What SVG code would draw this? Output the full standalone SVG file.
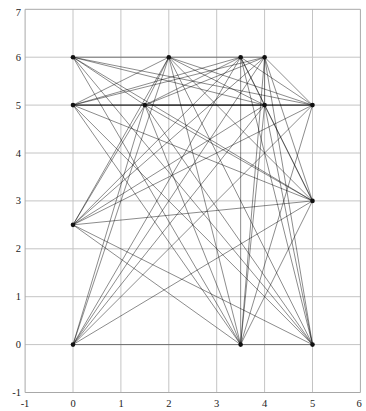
<svg xmlns="http://www.w3.org/2000/svg" width="366" height="411" viewBox="0 0 366 411">
<style>
.grid line{stroke:#c4c4c4;stroke-width:1;vector-effect:non-scaling-stroke}
.frame{fill:none;stroke:#a8a8a8;stroke-width:1;vector-effect:non-scaling-stroke}
.edges line{stroke:#000;stroke-opacity:0.5;stroke-width:0.9;vector-effect:non-scaling-stroke}
.node circle{fill:#111}
.lbl{font-family:"Liberation Serif","Times New Roman",serif;font-size:10.5px;fill:#222}
.xl{text-anchor:middle}
.yl{text-anchor:end;dominant-baseline:central}
</style>
<rect width="366" height="411" fill="#fff"/>
<g transform="translate(73,344.6) scale(47.9,-47.9)">
<g class="grid">
<line x1="0" y1="-1" x2="0" y2="7"/><line x1="1" y1="-1" x2="1" y2="7"/><line x1="2" y1="-1" x2="2" y2="7"/><line x1="3" y1="-1" x2="3" y2="7"/><line x1="4" y1="-1" x2="4" y2="7"/><line x1="5" y1="-1" x2="5" y2="7"/>
<line x1="-1" y1="0" x2="6" y2="0"/><line x1="-1" y1="1" x2="6" y2="1"/><line x1="-1" y1="2" x2="6" y2="2"/><line x1="-1" y1="3" x2="6" y2="3"/><line x1="-1" y1="4" x2="6" y2="4"/><line x1="-1" y1="5" x2="6" y2="5"/><line x1="-1" y1="6" x2="6" y2="6"/>
</g>
<rect class="frame" x="-1" y="-1" width="7" height="8"/>
<g id="connectors" class="edges">
<line x1="0" y1="6" x2="2" y2="6"/><line x1="0" y1="6" x2="1.5" y2="5"/><line x1="0" y1="6" x2="4" y2="5"/><line x1="0" y1="6" x2="5" y2="5"/><line x1="0" y1="6" x2="5" y2="3"/><line x1="0" y1="6" x2="3.5" y2="0"/><line x1="0" y1="6" x2="5" y2="0"/>
<line x1="2" y1="6" x2="3.5" y2="6"/><line x1="2" y1="6" x2="0" y2="5"/><line x1="2" y1="6" x2="1.5" y2="5"/><line x1="2" y1="6" x2="4" y2="5"/><line x1="2" y1="6" x2="5" y2="5"/><line x1="2" y1="6" x2="0" y2="2.5"/><line x1="2" y1="6" x2="5" y2="3"/><line x1="2" y1="6" x2="0" y2="0"/><line x1="2" y1="6" x2="3.5" y2="0"/><line x1="2" y1="6" x2="5" y2="0"/>
<line x1="3.5" y1="6" x2="4" y2="6"/><line x1="3.5" y1="6" x2="0" y2="5"/><line x1="3.5" y1="6" x2="1.5" y2="5"/><line x1="3.5" y1="6" x2="4" y2="5"/><line x1="3.5" y1="6" x2="5" y2="5"/><line x1="3.5" y1="6" x2="0" y2="2.5"/><line x1="3.5" y1="6" x2="5" y2="3"/><line x1="3.5" y1="6" x2="0" y2="0"/><line x1="3.5" y1="6" x2="3.5" y2="0"/><line x1="3.5" y1="6" x2="5" y2="0"/>
<line x1="4" y1="6" x2="0" y2="5"/><line x1="4" y1="6" x2="1.5" y2="5"/><line x1="4" y1="6" x2="4" y2="5"/><line x1="4" y1="6" x2="5" y2="5"/><line x1="4" y1="6" x2="0" y2="2.5"/><line x1="4" y1="6" x2="5" y2="3"/><line x1="4" y1="6" x2="0" y2="0"/><line x1="4" y1="6" x2="3.5" y2="0"/><line x1="4" y1="6" x2="5" y2="0"/>
<line x1="0" y1="5" x2="1.5" y2="5"/><line x1="0" y1="5" x2="4" y2="5"/><line x1="0" y1="5" x2="5" y2="5"/><line x1="0" y1="5" x2="5" y2="3"/><line x1="0" y1="5" x2="3.5" y2="0"/><line x1="0" y1="5" x2="5" y2="0"/>
<line x1="1.5" y1="5" x2="4" y2="5"/><line x1="1.5" y1="5" x2="5" y2="5"/><line x1="1.5" y1="5" x2="0" y2="2.5"/><line x1="1.5" y1="5" x2="5" y2="3"/><line x1="1.5" y1="5" x2="0" y2="0"/><line x1="1.5" y1="5" x2="3.5" y2="0"/><line x1="1.5" y1="5" x2="5" y2="0"/>
<line x1="4" y1="5" x2="5" y2="5"/><line x1="4" y1="5" x2="0" y2="2.5"/><line x1="4" y1="5" x2="5" y2="3"/><line x1="4" y1="5" x2="0" y2="0"/><line x1="4" y1="5" x2="3.5" y2="0"/><line x1="4" y1="5" x2="5" y2="0"/>
<line x1="5" y1="5" x2="0" y2="2.5"/><line x1="5" y1="5" x2="0" y2="0"/><line x1="5" y1="5" x2="3.5" y2="0"/>
<line x1="0" y1="2.5" x2="5" y2="3"/><line x1="0" y1="2.5" x2="3.5" y2="0"/><line x1="0" y1="2.5" x2="5" y2="0"/>
<line x1="5" y1="3" x2="0" y2="0"/><line x1="5" y1="3" x2="3.5" y2="0"/>
<line x1="0" y1="0" x2="3.5" y2="0"/>
<line x1="3.5" y1="0" x2="5" y2="0"/>
</g>
</g>
<g id="n_0_6" class="node"><circle cx="73" cy="57.2" r="2.3"/></g>
<g id="n_2_6" class="node"><circle cx="168.8" cy="57.2" r="2.3"/></g>
<g id="n_35_6" class="node"><circle cx="240.65" cy="57.2" r="2.3"/></g>
<g id="n_4_6" class="node"><circle cx="264.6" cy="57.2" r="2.3"/></g>
<g id="n_0_5" class="node"><circle cx="73" cy="105.1" r="2.3"/></g>
<g id="n_15_5" class="node"><circle cx="144.85" cy="105.1" r="2.3"/></g>
<g id="n_4_5" class="node"><circle cx="264.6" cy="105.1" r="2.3"/></g>
<g id="n_5_5" class="node"><circle cx="312.5" cy="105.1" r="2.3"/></g>
<g id="n_0_25" class="node"><circle cx="73" cy="224.85" r="2.3"/></g>
<g id="n_5_3" class="node"><circle cx="312.5" cy="200.9" r="2.3"/></g>
<g id="n_0_0" class="node"><circle cx="73" cy="344.6" r="2.3"/></g>
<g id="n_35_0" class="node"><circle cx="240.65" cy="344.6" r="2.3"/></g>
<g id="n_5_0" class="node"><circle cx="312.5" cy="344.6" r="2.3"/></g>
<g id="ylabels" class="lbl yl">
<text x="21" y="12">7</text><text x="21" y="57.2">6</text><text x="21" y="105.1">5</text><text x="21" y="153">4</text><text x="21" y="200.9">3</text><text x="21" y="248.8">2</text><text x="21" y="296.7">1</text><text x="21" y="344.6">0</text><text x="21" y="392.5">-1</text>
</g>
<g id="xlabels" class="lbl xl">
<text x="25" y="407">-1</text><text x="73" y="407">0</text><text x="121" y="407">1</text><text x="168.8" y="407">2</text><text x="216.7" y="407">3</text><text x="264.6" y="407">4</text><text x="312.5" y="407">5</text><text x="359" y="407">6</text>
</g>
</svg>
